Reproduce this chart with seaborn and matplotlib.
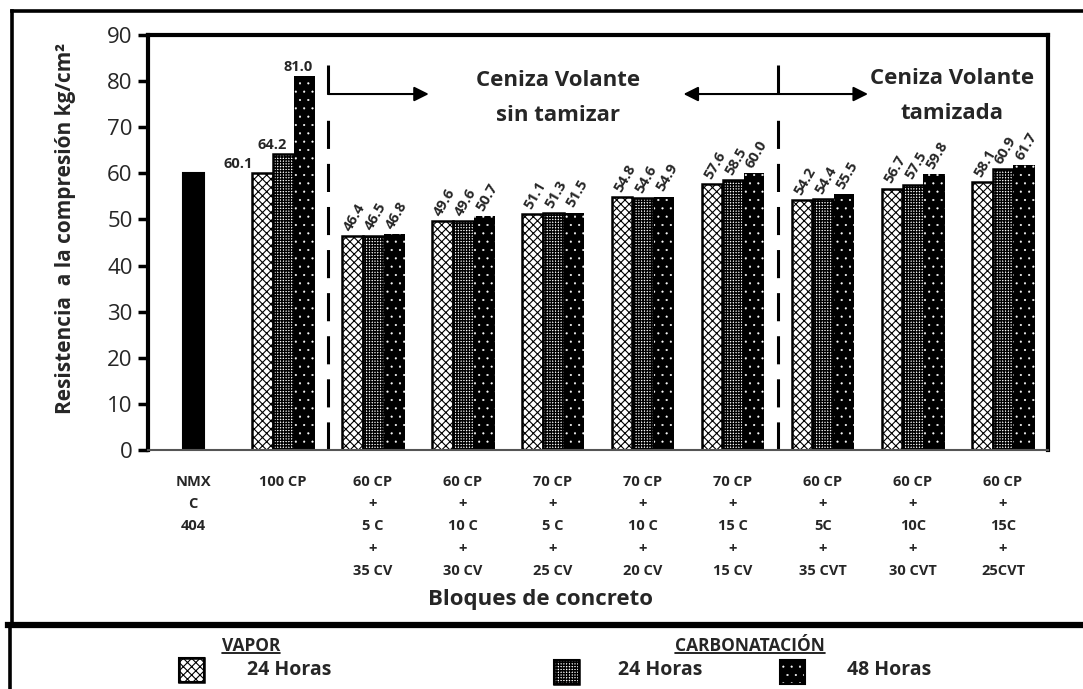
import numpy as np
import pandas as pd
import matplotlib
matplotlib.use("Agg")
import matplotlib.pyplot as plt
import seaborn as sns
from matplotlib.patches import Rectangle
from matplotlib.lines import Line2D

# Datos del grafico
categorias = [
    "NMX\nC\n404",
    "100 CP",
    "60 CP\n+\n5 C\n+\n35 CV",
    "60 CP\n+\n10 C\n+\n30 CV",
    "70 CP\n+\n5 C\n+\n25 CV",
    "70 CP\n+\n10 C\n+\n20 CV",
    "70 CP\n+\n15 C\n+\n15 CV",
    "60 CP\n+\n5C\n+\n35 CVT",
    "60 CP\n+\n10C\n+\n30 CVT",
    "60 CP\n+\n15C\n+\n25CVT",
]
series = ["Vapor 24 Horas", "Carbonatacion 24 Horas", "Carbonatacion 48 Horas"]
vapor_24 = [np.nan, 60.1, 46.4, 49.6, 51.1, 54.8, 57.6, 54.2, 56.7, 58.1]
carb_24 = [np.nan, 64.2, 46.5, 49.6, 51.3, 54.6, 58.5, 54.4, 57.5, 60.9]
carb_48 = [np.nan, 81.0, 46.8, 50.7, 51.5, 54.9, 60.0, 55.5, 59.8, 61.7]
nmx_valor = 60.0

# Tabla larga para seaborn
df = pd.DataFrame({
    "bloque": categorias * 3,
    "serie": [series[0]] * 10 + [series[1]] * 10 + [series[2]] * 10,
    "valor": vapor_24 + carb_24 + carb_48,
}).dropna()

sns.set_style("white")
plt.rcParams["font.family"] = ["Open Sans", "DejaVu Sans"]
plt.rcParams["hatch.linewidth"] = 0.8

W, H = 1083, 689
fig = plt.figure(figsize=(W / 100, H / 100), dpi=100)
ax = fig.add_axes([148 / W, 1 - 450 / H, 900 / W, 415 / H])

sns.barplot(
    data=df,
    x="bloque",
    y="valor",
    hue="serie",
    order=categorias,
    hue_order=series,
    width=0.7,
    errorbar=None,
    legend=False,
    ax=ax,
)

# Barra de referencia NMX
ax.bar(0, nmx_valor, width=0.7 / 3, color="black", edgecolor="black", linewidth=1.5)

# Estilo de cada serie
estilos = [
    dict(facecolor="white", edgecolor="black", hatch="xxxx", linewidth=1.8, hlw=0.8),
    dict(facecolor="white", edgecolor="black", hatch="++++++", linewidth=1.8, hlw=1.0),
    dict(facecolor="black", edgecolor="white", hatch="..", linewidth=0, hlw=0.3),
]


def aplicar(p, est):
    p.set_facecolor(est["facecolor"])
    p.set_edgecolor(est["edgecolor"])
    p.set_hatch(est["hatch"])
    p.set_linewidth(est["linewidth"])
    if hasattr(p, "set_hatch_linewidth"):
        p.set_hatch_linewidth(est["hlw"])


for cont, est in zip(ax.containers[:3], estilos):
    for p in cont.patches:
        aplicar(p, est)

# Etiquetas de valores
for j, cont in enumerate(ax.containers[:3]):
    for p in cont.patches:
        cx = p.get_x() + p.get_width() / 2
        h = p.get_height()
        if np.isnan(h):
            continue
        txt = f"{h:.1f}"
        if round(cx) == 1:
            if j == 0:
                ax.text(p.get_x() + 0.01, h + 0.4, txt, ha="right", va="bottom",
                        fontsize=10.5, fontweight="bold")
            elif j == 1:
                ax.text(cx - 0.12, h + 0.5, txt, ha="center", va="bottom",
                        fontsize=10.5, fontweight="bold")
            else:
                ax.text(cx - 0.06, h + 0.5, txt, ha="center", va="bottom",
                        fontsize=10.5, fontweight="bold")
        else:
            ax.text(cx - 0.05, h + 1.4, txt, rotation=60, rotation_mode="anchor",
                    ha="left", va="center", fontsize=10.5, fontweight="bold")

# Lineas divisorias y flechas
for xv in [1.5, 6.5]:
    ax.plot([xv, xv], [77.2, 83.5], color="black", lw=2.2, solid_capstyle="butt")
    ax.plot([xv, xv], [0, 74.3], color="black", lw=2.2,
            linestyle=(0, (9.2, 4.9)), dash_capstyle="butt")
ax.annotate("", xy=(2.62, 77.2), xytext=(1.5, 77.2),
            arrowprops=dict(arrowstyle="-|>", lw=1.5, color="black", mutation_scale=22,
                            shrinkA=0, shrinkB=0))
ax.annotate("", xy=(5.45, 77.2), xytext=(7.5, 77.2),
            arrowprops=dict(arrowstyle="<|-|>", lw=1.5, color="black", mutation_scale=22,
                            shrinkA=0, shrinkB=0))
ax.text(4.06, 76.3, "Ceniza Volante\nsin tamizar", ha="center", va="center",
        fontsize=16, fontweight="bold", linespacing=1.85)
ax.text(8.43, 76.8, "Ceniza Volante\ntamizada", ha="center", va="center",
        fontsize=16, fontweight="bold", linespacing=1.85)

# Ejes
ax.set_ylim(0, 90)
ax.set_xlim(-0.5, 9.5)
ax.set_yticks(range(0, 91, 10))
ax.set_xlabel("")
ax.set_ylabel("")
ax.tick_params(axis="y", direction="out", length=7, width=2.5, labelsize=16, pad=4,
               left=True, color="black")
ax.tick_params(axis="x", length=0, pad=18)
ax.set_xticks(range(10))
ax.set_xticklabels(categorias, fontsize=10.5, fontweight="bold", linespacing=1.75)
for s in ["top", "left", "right"]:
    ax.spines[s].set_linewidth(3)
    ax.spines[s].set_color("black")
ax.spines["bottom"].set_linewidth(1.5)
ax.spines["bottom"].set_color("#555555")

fig.text(66 / W, 1 - 228 / H, "Resistencia  a la compresión kg/cm²", rotation=90,
         ha="center", va="center", fontsize=15, fontweight="bold")
fig.text(541 / W, 1 - 600 / H, "Bloques de concreto", ha="center", va="center",
         fontsize=16, fontweight="bold")

# Marcos exteriores
def linea(x0, y0, x1, y1, lw):
    fig.add_artist(Line2D([x0 / W, x1 / W], [1 - y0 / H, 1 - y1 / H],
                          color="black", lw=lw, solid_capstyle="projecting"))

linea(12, 11, 1090, 11, 2.6)
linea(12, 11, 12, 625, 2.6)
linea(8, 625, 1090, 625, 4.5)
linea(10, 625, 10, 700, 2.6)

# Leyenda manual
fig.canvas.draw()
renderer = fig.canvas.get_renderer()
for tx, t in [(222, "VAPOR"), (675, "CARBONATACIÓN")]:
    tt = fig.text(tx / W, 1 - 646 / H, t, ha="left", va="center", fontsize=12.5,
                  fontweight="bold")
    bb = tt.get_window_extent(renderer)
    fig.add_artist(Line2D([bb.x0 / W, bb.x1 / W], [1 - 653 / H, 1 - 653 / H],
                          color="black", lw=1.2))

muestras = [(179, 658, estilos[0]), (554, 660, estilos[1]), (780, 660, estilos[2])]
for mx, my, est in muestras:
    r = Rectangle((mx / W, 1 - (my + 24) / H), 25 / W, 24 / H, transform=fig.transFigure)
    aplicar(r, est)
    fig.add_artist(r)
    fig.add_artist(Rectangle((mx / W, 1 - (my + 24) / H), 25 / W, 24 / H,
                             transform=fig.transFigure, facecolor="none",
                             edgecolor="black", linewidth=1.5))

for tx, t in [(247, "24 Horas"), (618, "24 Horas"), (847, "48 Horas")]:
    fig.text(tx / W, 1 - 670 / H, t, ha="left", va="center", fontsize=14,
             fontweight="bold")

fig.savefig("out.png", dpi=100, facecolor="white")
